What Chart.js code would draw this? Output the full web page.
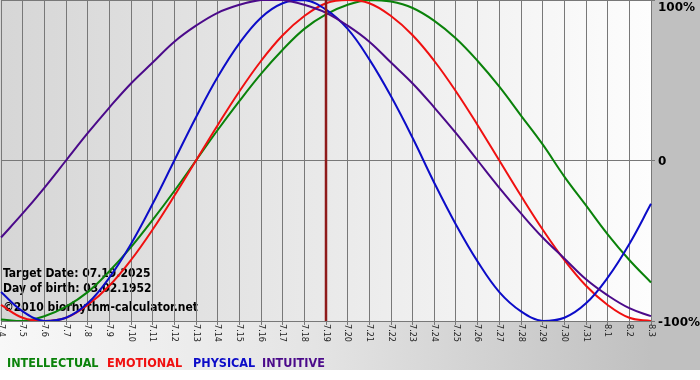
<!DOCTYPE html>
<html>
<head>
<meta charset="utf-8">
<title>Biorhythm</title>
<script src="https://cdn.jsdelivr.net/npm/chart.js@4.4.0/dist/chart.umd.min.js"></script>
<style>
    html, body { margin: 0; padding: 0; background: #fff; }
    #wrap { width: 700px; height: 380px; position: relative; }
</style>
</head>
<body>
<div id="wrap"><canvas id="bioChart"></canvas></div>
<script>
// days shown on the x axis (month.day)
const days = ['7.4', '7.5', '7.6', '7.7', '7.8', '7.9', '7.10', '7.11', '7.12', '7.13', '7.14',
    '7.15', '7.16', '7.17', '7.18', '7.19', '7.20', '7.21', '7.22', '7.23', '7.24', '7.25',
    '7.26', '7.27', '7.28', '7.29', '7.30', '7.31', '8.1', '8.2', '8.3'];

// cycle values in percent
const intellectual = [-99, -100, -97, -91, -82, -69, -54, -37, -19, 0, 19, 37, 54, 69, 82, 91,
    97, 100, 99, 95, 87, 76, 62, 46, 28, 10, -10, -28, -46, -62, -76];
const emotional = [-90, -98, -100, -98, -90, -78, -62, -43, -22, 0, 22, 43, 62, 78, 90, 98,
    100, 98, 90, 78, 62, 43, 22, 0, -22, -43, -62, -78, -90, -98, -100];
const physical = [-82, -94, -100, -98, -89, -73, -52, -27, 0, 27, 52, 73, 89, 98, 100, 94,
    82, 63, 40, 14, -14, -40, -63, -82, -94, -100, -98, -89, -73, -52, -27];
const intuitive = [-48, -33, -17, 0, 17, 33, 48, 61, 74, 84, 92, 97, 100, 100, 97, 92,
    84, 74, 61, 48, 33, 17, 0, -17, -33, -48, -61, -74, -84, -92, -97];

const yTicks = [100, 0, -100];
const yTickLabels = ['100%', '0', '-100%'];
const targetDay = '7.19';
const infoLines = ['Target Date: 07.19.2025', 'Day of birth: 03.02.1952', '\u00a92010 biorhythm-calculator.net'];
const legendNames = ['INTELLECTUAL', 'EMOTIONAL', 'PHYSICAL', 'INTUITIVE'];

const colors = {
    intellectual: '#0a820a',
    emotional: '#f01010',
    physical: '#0c0cc8',
    intuitive: '#4b0a8a'
};
const legendColors = [colors.intellectual, colors.emotional, colors.physical, colors.intuitive];

const backgroundPlugin = {
    id: 'bioBackground',
    beforeDraw(chart) {
        const ctx = chart.ctx;
        const area = chart.chartArea;
        const w = chart.width;
        ctx.save();
        // outer frame gradient
        let g = ctx.createLinearGradient(0, 0, w, 0);
        g.addColorStop(0, '#f8f8f8');
        g.addColorStop(0.45, '#e4e4e4');
        g.addColorStop(0.93, '#c0c0c0');
        g.addColorStop(1, '#c0c0c0');
        ctx.fillStyle = g;
        ctx.fillRect(0, 0, w, 370);
        ctx.fillStyle = '#ffffff';
        ctx.fillRect(0, 370, w, chart.height - 370);
        // plot area gradient
        g = ctx.createLinearGradient(area.left, 0, area.right, 0);
        g.addColorStop(0, '#d6d6d6');
        g.addColorStop(1, '#fdfdfd');
        ctx.fillStyle = g;
        ctx.fillRect(0, area.top, area.right, area.bottom - area.top);

        // info text sits under the grid and curves
        ctx.fillStyle = '#000';
        ctx.font = 'bold 12px "DejaVu Sans Condensed"';
        ctx.textBaseline = 'alphabetic';
        ctx.textAlign = 'left';
        ctx.fillText(infoLines[0], 3, 277);
        ctx.fillText(infoLines[1], 3, 292);
        ctx.fillText(infoLines[2], 3, 311);
        ctx.restore();
    },
    afterDatasetsDraw(chart) {
        const ctx = chart.ctx;
        const area = chart.chartArea;
        const x = chart.scales.x.getPixelForValue(days.indexOf(targetDay));
        ctx.save();
        ctx.strokeStyle = '#8e1a1a';
        ctx.lineWidth = 2.5;
        ctx.beginPath();
        ctx.moveTo(x, area.top);
        ctx.lineTo(x, area.bottom);
        ctx.stroke();
        ctx.restore();
    },
    afterDraw(chart) {
        const ctx = chart.ctx;
        const area = chart.chartArea;
        const xs = chart.scales.x;
        const ys = chart.scales.y;
        ctx.save();

        // day labels, turned to read downward
        ctx.fillStyle = '#222';
        ctx.font = '9px "DejaVu Sans Condensed"';
        ctx.textAlign = 'left';
        ctx.textBaseline = 'middle';
        days.forEach((d, i) => {
            const x = xs.getPixelForTick(i);
            ctx.save();
            ctx.translate(x, area.bottom + 3);
            ctx.rotate(Math.PI / 2);
            ctx.fillText(d, 0, 0);
            ctx.restore();
        });

        // percent labels on the right
        ctx.fillStyle = '#000';
        ctx.font = 'bold 12px "DejaVu Sans"';
        yTicks.forEach((v, i) => {
            const y = Math.max(ys.getPixelForValue(v) + 1.5, 7.5);
            ctx.fillText(yTickLabels[i], area.right + 7, y);
        });

        // coloured legend words
        ctx.font = 'bold 12.5px "DejaVu Sans Condensed"';
        ctx.textBaseline = 'alphabetic';
        const starts = [7, 107, 193, 262];
        legendNames.forEach((name, i) => {
            ctx.fillStyle = legendColors[i];
            ctx.fillText(name, starts[i], 367);
        });
        ctx.restore();
    }
};

const ctx = document.getElementById('bioChart').getContext('2d');

new Chart(ctx, {
    type: 'line',
    data: {
        labels: days,
        datasets: [
            { label: 'INTELLECTUAL', data: intellectual, borderColor: colors.intellectual, order: 3 },
            { label: 'EMOTIONAL', data: emotional, borderColor: colors.emotional, order: 2 },
            { label: 'PHYSICAL', data: physical, borderColor: colors.physical, order: 1 },
            { label: 'INTUITIVE', data: intuitive, borderColor: colors.intuitive, order: 0 }
        ]
    },
    options: {
        responsive: true,
        maintainAspectRatio: false,
        animation: false,
        devicePixelRatio: 1,
        layout: { padding: { left: 1, top: 0, right: 0, bottom: 0 } },
        elements: {
            line: { borderWidth: 2, tension: 0.4, fill: false },
            point: { radius: 0 }
        },
        plugins: {
            legend: { display: false },
            tooltip: { enabled: false }
        },
        scales: {
            x: {
                type: 'category',
                offset: false,
                grid: { color: '#787878', lineWidth: 1, tickLength: 4, drawTicks: true },
                border: { display: true, color: '#787878' },
                ticks: { display: false, autoSkip: false },
                afterFit(scale) { scale.height = 59; }
            },
            y: {
                position: 'right',
                min: -100,
                max: 100,
                grid: { color: '#787878', lineWidth: 1, tickLength: 4, drawTicks: true },
                border: { display: true, color: '#787878' },
                ticks: { display: false, stepSize: 100 },
                afterFit(scale) { scale.width = 49; }
            }
        }
    },
    plugins: [backgroundPlugin]
});
</script>
</body>
</html>
